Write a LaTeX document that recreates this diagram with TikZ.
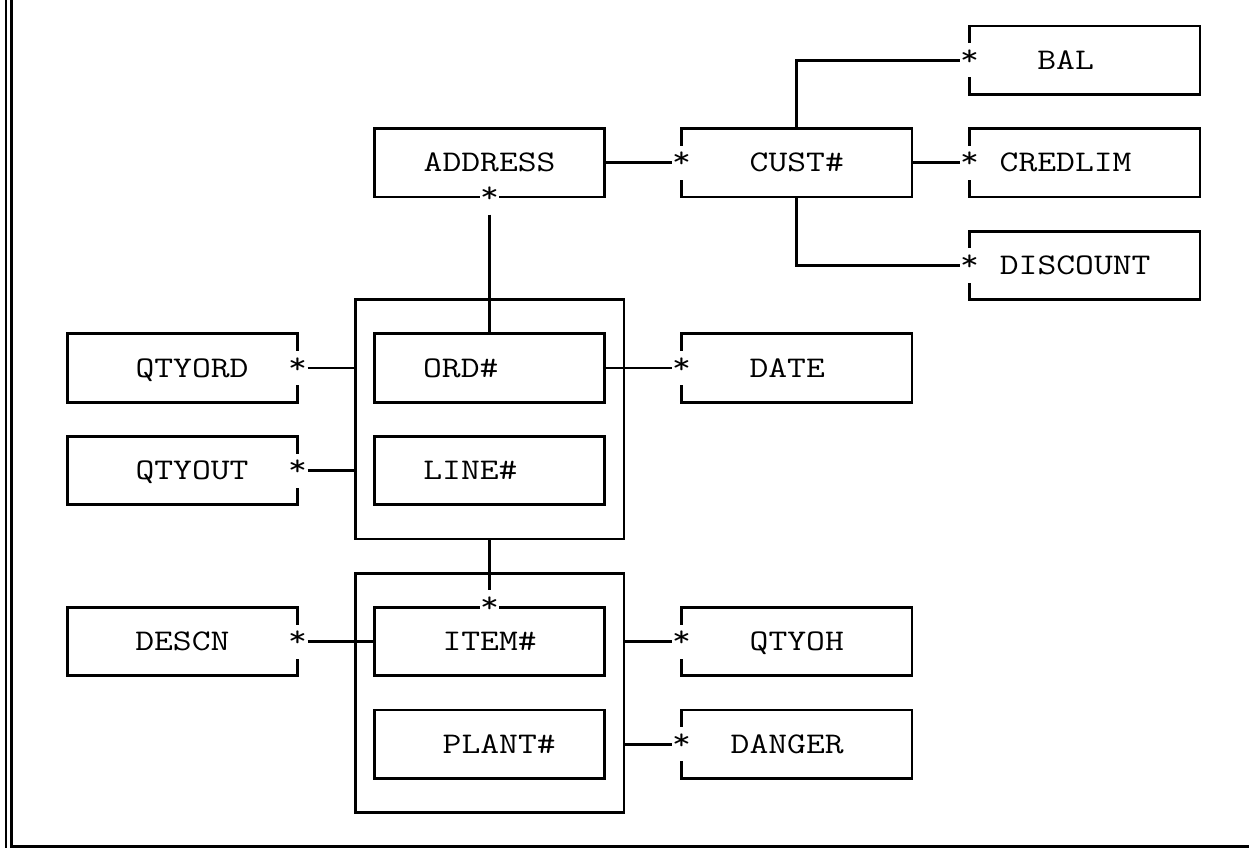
\documentclass[tikz,border=0pt]{standalone}
\usepackage{fontspec}
\newfontfamily\gridfont{Latin Modern Mono}[FakeStretch=1.219]

\tikzset{
  box/.style = {draw, line width=1.4pt, minimum width=115.2pt, minimum height=34.2pt, inner sep=0pt, outer sep=0pt},
  group/.style = {draw, line width=1.4pt, minimum width=134.4pt, minimum height=119.7pt, inner sep=0pt, outer sep=0pt},
  txt/.style = {font=\gridfont\fontsize{15}{17}\selectfont, inner sep=0pt, text height=9.1pt, text depth=0pt},
  star/.style = {txt, text depth=4pt, fill=white, minimum width=9.6pt, minimum height=17.1pt},
  link/.style = {line width=1.4pt},
}

\begin{document}
\begin{tikzpicture}[x=9.6pt, y=-17.1pt]
        \useasboundingbox (-0.5,-0.76) rectangle (64.55,24.04); %
        \draw[link] (-0.19,-0.76) -- (-0.19,24.04); %
        \draw[link] (0.09,-0.76) -- (0.09,24.0) -- (64.55,24.0); %
        %
        \node[box] (bal) at (56,1) {} ; %
        \node[box] (address) at (25,4) {} ; %
        \node[box] (cust) at (41,4) {} ; %
        \node[box] (credlim) at (56,4) {} ; %
        \node[box] (discount) at (56,7) {} ; %
        \node[group] (ordline) at (25,11.5) {} ; %
        \node[box] (ord) at (25,10) {} ; %
        \node[box] (linenum) at (25,13) {} ; %
        \node[box] (qtyord) at (9,10) {} ; %
        \node[box] (qtyout) at (9,13) {} ; %
        \node[box] (date) at (41,10) {} ; %
        \node[group] (itemplant) at (25,19.5) {} ; %
        \node[box] (item) at (25,18) {} ; %
        \node[box] (plant) at (25,21) {} ; %
        \node[box] (descn) at (9,18) {} ; %
        \node[box] (qtyoh) at (41,18) {} ; %
        \node[box] (danger) at (41,21) {} ; %
        %
        \node[txt] (bal-t) at (55,1) {BAL} ; %
        \node[txt] (address-t) at (25,4) {ADDRESS} ; %
        \node[txt] (cust-t) at (41,4) {CUST\#} ; %
        \node[txt] (credlim-t) at (55,4) {CREDLIM} ; %
        \node[txt] (discount-t) at (55.5,7) {DISCOUNT} ; %
        \node[txt] (ord-t) at (23.5,10) {ORD\#} ; %
        \node[txt] (linenum-t) at (24,13) {LINE\#} ; %
        \node[txt] (qtyord-t) at (9.5,10) {QTYORD} ; %
        \node[txt] (qtyout-t) at (9.5,13) {QTYOUT} ; %
        \node[txt] (date-t) at (40.5,10) {DATE} ; %
        \node[txt] (item-t) at (25,18) {ITEM\#} ; %
        \node[txt] (plant-t) at (25.5,21) {PLANT\#} ; %
        \node[txt] (descn-t) at (9,18) {DESCN} ; %
        \node[txt] (qtyoh-t) at (41,18) {QTYOH} ; %
        \node[txt] (danger-t) at (40.5,21) {DANGER} ; %
        %
        \node[star] (s-bal) at (bal.west) {*} ; %
        \node[star] (s-cust) at (cust.west) {*} ; %
        \node[star] (s-cred) at (credlim.west) {*} ; %
        \node[star] (s-disc) at (discount.west) {*} ; %
        \node[star] (s-addr) at (address.south) {*} ; %
        \node[star] (s-date) at (date.west) {*} ; %
        \node[star] (s-qord) at (qtyord.east) {*} ; %
        \node[star] (s-qout) at (qtyout.east) {*} ; %
        \node[star] (s-item) at (item.north) {*} ; %
        \node[star] (s-descn) at (descn.east) {*} ; %
        \node[star] (s-qoh) at (qtyoh.west) {*} ; %
        \node[star] (s-danger) at (danger.west) {*} ; %
        %
        \draw[link] (address.east) -- (s-cust.west) ; %
        \draw[link] (cust.north) |- (s-bal.west) ; %
        \draw[link] (cust.east) -- (s-cred.west) ; %
        \draw[link] (cust.south) |- (s-disc.west) ; %
        \draw[link] (s-addr.south) -- (ord.north) ; %
        \draw[link] (ord.east) -- (s-date.west) ; %
        \draw[link] (s-qord.east) -- (s-qord.east -| ordline.west) ; %
        \draw[link] (s-qout.east) -- (s-qout.east -| ordline.west) ; %
        \draw[link] (ordline.south) -- (s-item.north) ; %
        \draw[link] (s-descn.east) -- (item.west) ; %
        \draw[link] (s-qoh.west -| itemplant.east) -- (s-qoh.west) ; %
        \draw[link] (s-danger.west -| itemplant.east) -- (s-danger.west) ; %
\end{tikzpicture}
\end{document}
